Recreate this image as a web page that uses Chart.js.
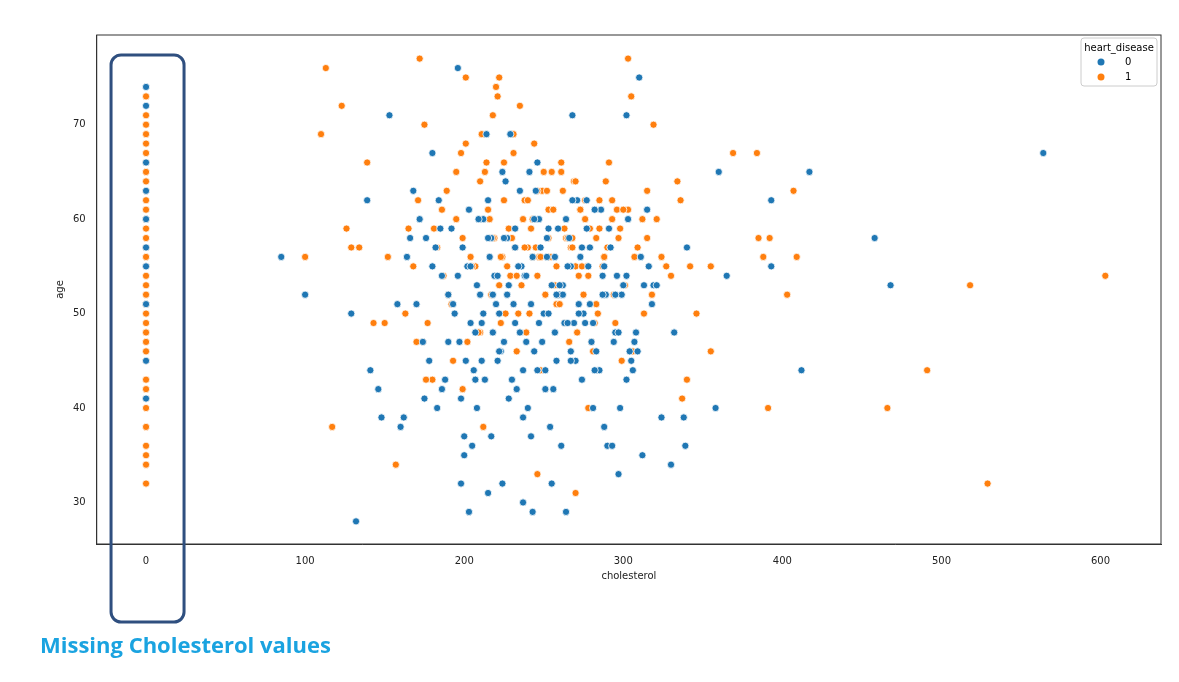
<!DOCTYPE html>
<html><head><meta charset="utf-8">
<script src="https://cdn.jsdelivr.net/npm/chart.js@4/dist/chart.umd.min.js"></script>
<style>html,body{margin:0;padding:0;background:#fff}#c{display:block}</style>
</head><body>
<canvas id="c" width="1179" height="682"></canvas>
<script>
const blueZeroAges=[74,72,66,63,60,57,55,51,45,41];
const orangeZeroAges=[73,71,70,69,68,67,66,65,64,63,62,61,60,59,58,57,56,55,54,53,52,51,50,49,48,47,46,45,43,42,41,40,38,36,35,34,32];
const blueChol=[85,100,132,129,153,139,141,148,146,360,417,393,393,412,458,468,564,365,339,338,358,340,310,297,302,196,268,203,237,243,264,255,198,215,224,
164,168,172,180,185,190,194,199,203,207,211,215,219,223,227,231,235,239,243,247,251,255,259,263,267,271,275,279,283,287,291,295,299,303,307,311,315,319,
166,174,182,188,196,204,212,220,228,236,244,252,260,268,276,284,292,300,308,316,324,332,
170,178,186,192,200,208,216,224,232,240,248,256,264,272,280,288,296,304,312,
162,176,184,198,206,214,222,230,238,246,254,262,270,278,286,294,302,318,330,
160,180,200,210,218,226,234,242,250,258,266,274,282,290,298,306,
175,190,205,213,221,229,237,245,253,261,269,277,285,293,
158,183,201,209,217,225,233,241,249,257,265,281,289,297,305,313,321,
197,202,207,212,217,222,227,232,237,242,247,252,257,262,267,272,277,282,287,292,
204,211,218,225,232,239,246,253,260,267,274,281,288,295,302,309,
186,193,208,215,221,228,235,244,251,258,265,273,279,286];
const blueAge=[56,52,28,50,71,62,44,39,42,65,65,62,55,44,58,53,67,54,36,39,40,57,75,33,71,76,71,29,30,29,29,32,32,31,32,
56,63,60,55,59,52,50,57,61,48,45,62,54,46,58,51,63,47,56,60,44,53,59,49,55,62,50,57,46,54,59,48,52,60,47,56,61,
53,58,47,57,43,54,49,60,51,41,55,46,58,52,62,49,44,57,53,48,55,39,
48,51,45,42,59,37,53,56,65,49,40,57,42,60,51,47,38,54,46,
35,39,58,62,41,44,69,50,43,54,66,38,52,45,55,61,47,54,51,
34,38,67,35,52,48,64,55,37,50,45,58,43,61,36,40,
44,41,47,36,43,54,69,39,63,59,36,49,62,44,
36,51,40,45,60,37,58,42,65,47,56,55,40,52,48,45,53,
53,47,55,43,50,58,46,52,57,44,51,49,56,48,53,45,50,59,44,52,
57,55,49,52,47,59,54,44,50,53,46,57,49,55,52,43,
46,54,51,40,58,45,53,48,60,42,52,49,56,51];
const orangeChol=[100,110,113,117,123,126,129,134,139,143,150,152,157,172,175,199,201,222,246,270,303,305,319,369,384,385,388,392,391,403,407,409,466,491,518,529,603,355,346,340,337,342,355,336,334,
165,171,177,183,189,195,201,207,213,219,225,231,237,243,249,255,261,267,273,279,285,291,297,303,309,315,321,327,
168,174,180,186,192,198,204,210,216,222,228,234,240,246,252,258,264,270,276,282,288,294,300,306,312,318,324,330,
163,181,193,205,211,217,223,229,235,241,247,253,259,265,271,277,283,289,295,301,307,313,
170,187,199,209,215,221,227,233,239,245,251,257,263,269,275,281,287,293,299,
176,190,202,212,218,224,230,236,242,248,254,260,266,272,278,284,290,296,
195,214,220,226,232,238,244,250,256,262,268,274,280,
218,223,228,233,238,243,248,253,258,263,268,273,278,283,288,293,298,
210,225,240,255,270,285,300,315,231,246,261,276];
const orangeAge=[56,69,76,38,72,59,57,57,66,49,49,56,34,77,70,42,75,75,33,31,77,73,70,67,67,58,56,58,40,52,63,56,40,44,53,32,54,46,50,43,41,55,55,62,64,
59,62,49,57,63,60,68,55,65,58,62,69,60,56,63,53,65,57,61,59,62,66,58,61,57,63,60,55,
55,47,43,61,51,67,56,48,60,53,59,50,57,54,63,51,58,55,60,49,56,52,53,46,60,52,56,54,
50,59,45,55,69,52,49,54,72,50,56,61,52,58,48,55,51,64,49,53,56,50,
47,54,58,48,61,73,55,46,48,57,52,53,49,64,52,46,55,62,45,
43,52,47,38,71,56,58,53,59,44,56,51,47,54,40,50,57,61,
65,66,74,50,57,62,68,65,61,63,58,55,47,
58,56,59,54,57,60,56,58,55,59,57,61,54,58,56,60,59,
64,66,62,65,64,59,61,58,67,63,66,62];
const xTicks=[0,100,200,300,400,500,600];
const yTicks=[30,40,50,60,70];

const toPts=(xs,ys)=>xs.map((x,i)=>({x,y:ys[i]}));
const blue=toPts(blueZeroAges.map(()=>0),blueZeroAges).concat(toPts(blueChol,blueAge));
const orange=toPts(orangeZeroAges.map(()=>0),orangeZeroAges).concat(toPts(orangeChol,orangeAge));

const frame={id:'frame',beforeDatasetsDraw(ch){
  const c=ch.ctx,a=ch.chartArea;c.save();c.strokeStyle='#333';c.lineWidth=1;
  c.strokeRect(a.left,a.top,a.right-a.left,a.bottom-a.top);c.restore();
}};
const deco={id:'deco',afterDraw(ch){
  const c=ch.ctx,xs=ch.scales.x,a=ch.chartArea;
  const lx=a.right-80,ly=a.top+3;
  c.save();
  c.strokeStyle='#ccc';c.lineWidth=1;c.fillStyle='rgba(255,255,255,0.85)';
  c.beginPath();c.roundRect(lx,ly,76,48,3);c.fill();c.stroke();
  c.font='10px "DejaVu Sans"';c.fillStyle='#000';c.textBaseline='middle';c.textAlign='center';
  c.fillText('heart_disease',lx+38,ly+10);
  [['0','#1f77b4',24],['1','#ff7f0e',39]].forEach(([t,col,dy])=>{
    c.beginPath();c.arc(lx+20,ly+dy,3.5,0,Math.PI*2);c.fillStyle=col;c.fill();
    c.fillStyle='#000';c.textAlign='left';c.fillText(t,lx+44,ly+dy);
  });
  const x0=xs.getPixelForValue(0);
  c.strokeStyle='#2f4f7f';c.lineWidth=3;
  c.beginPath();c.roundRect(x0-35,55,73,567,10);c.stroke();
  c.fillStyle='#1aa3e0';c.font='bold 22px "Open Sans"';c.textAlign='left';c.textBaseline='alphabetic';
  c.fillText('Missing Cholesterol values',40,653);
  c.restore();
}};

new Chart(document.getElementById('c'),{
  type:'scatter',
  data:{datasets:[
    {label:'0',data:blue,backgroundColor:'#1f77b4',borderColor:'#fff',borderWidth:0.8,pointRadius:3.6},
    {label:'1',data:orange,backgroundColor:'#ff7f0e',borderColor:'#fff',borderWidth:0.8,pointRadius:3.6}
  ]},
  options:{responsive:false,animation:false,
    layout:{padding:{left:50,right:18,top:35,bottom:96}},
    plugins:{legend:{display:false},tooltip:{enabled:false}},
    scales:{
      x:{min:-31,max:638,grid:{display:false},border:{color:'#333'},
        afterBuildTicks:s=>{s.ticks=xTicks.map(v=>({value:v}));},
        ticks:{color:'#222',font:{size:10,family:'DejaVu Sans'}},
        title:{display:true,text:'cholesterol',color:'#222',font:{size:10,family:'DejaVu Sans'},padding:{top:0}}},
      y:{min:25.6,max:79.5,grid:{display:false},border:{color:'#333'},
        afterBuildTicks:s=>{s.ticks=yTicks.map(v=>({value:v}));},
        ticks:{color:'#222',font:{size:10,family:'DejaVu Sans'}},
        title:{display:true,text:'age',color:'#222',font:{size:10,family:'DejaVu Sans'}}}
    }
  },
  plugins:[frame,deco]
});
</script>
</body></html>
